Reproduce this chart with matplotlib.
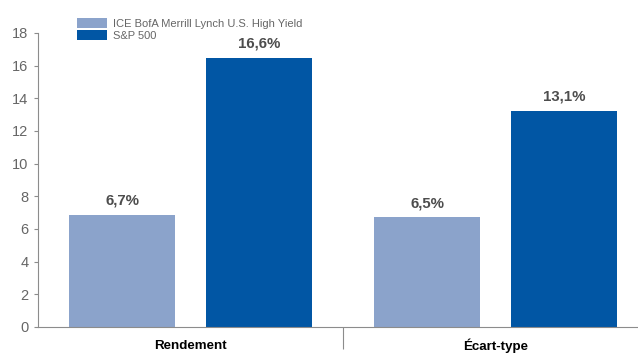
import numpy as np
import matplotlib.pyplot as plt

plt.rcParams['font.family'] = ['Liberation Sans', 'DejaVu Sans']

groups = ['Rendement', 'Écart-type']
series = ['ICE BofA Merrill Lynch U.S. High Yield', 'S&P 500']
# bar heights as drawn, and the printed labels
high_yield = [6.87, 6.73]
sp500 = [16.48, 13.23]
hy_labels = ['6,7%', '6,5%']
sp_labels = ['16,6%', '13,1%']
yticks = [0, 2, 4, 6, 8, 10, 12, 14, 16, 18]

c_light = '#8BA3CB'
c_dark = '#0156A4'
c_axis = '#8C8C8C'

fig = plt.figure(figsize=(6.38, 3.54), dpi=100)
ax = fig.add_axes([38/638, 27/354, 600/638, 294/354])

x = np.arange(len(groups))
w = 0.349
off = 0.224
b1 = ax.bar(x - off, high_yield, w, color=c_light, label=series[0])
b2 = ax.bar(x + off, sp500, w, color=c_dark, label=series[1])

for bars, labs in [(b1, hy_labels), (b2, sp_labels)]:
    for b, t in zip(bars, labs):
        ax.annotate(t, (b.get_x() + b.get_width()/2, b.get_height()),
                    xytext=(0, 5), textcoords='offset points',
                    ha='center', va='bottom', fontsize=10.8,
                    fontweight='bold', color='#4D4D4D')

ax.set_ylim(0, 18)
ax.set_xlim(-0.5, 1.467)
ax.set_yticks(yticks)
ax.set_yticklabels([str(v) for v in yticks], fontsize=10.5, color='#666666')
ax.tick_params(axis='y', length=3, width=0.8, color=c_axis, pad=4)

# group separator tick
ax.set_xticks([0.5], minor=False)
ax.set_xticklabels([''])
ax.tick_params(axis='x', length=16, width=0.8, color=c_axis)
for i, g in enumerate(groups):
    ax.text(i, -0.064, g, transform=ax.get_xaxis_transform(), ha='center',
            va='center', fontsize=9.6, fontweight='bold', color='black')

for s in ['top', 'right']:
    ax.spines[s].set_visible(False)
for s in ['left', 'bottom']:
    ax.spines[s].set_color(c_axis)
    ax.spines[s].set_linewidth(0.8)

leg = ax.legend(loc='upper left', bbox_to_anchor=(33/600, 1.07), frameon=False,
                fontsize=8, handlelength=2.7, handleheight=1.0,
                labelspacing=0.1, handletextpad=0.6, borderpad=0)
for t in leg.get_texts():
    t.set_color('#666666')

fig.savefig('out.png', dpi=100)
